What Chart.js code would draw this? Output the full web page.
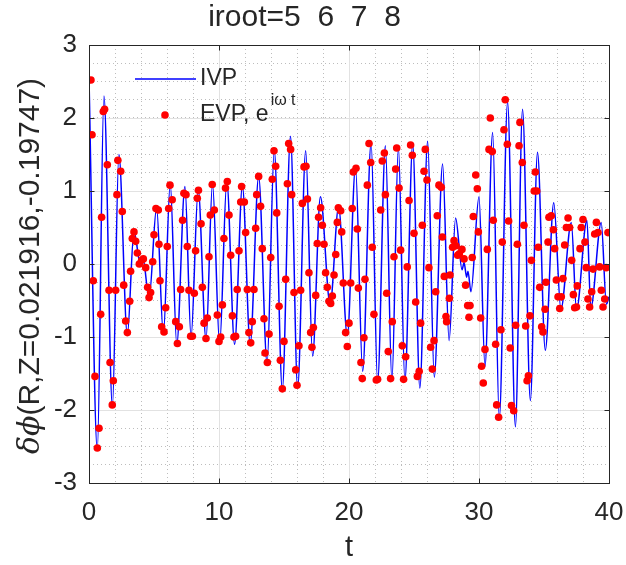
<!DOCTYPE html>
<html>
<head>
<meta charset="utf-8">
<script src="https://cdn.jsdelivr.net/npm/chart.js@4.4.1/dist/chart.umd.min.js"></script>
<style>
  body { margin: 0; background: #fff; }
</style>
</head>
<body>
<canvas id="plot" width="626" height="565"></canvas>
<script>
var titleText = 'iroot=5  6  7  8';
var xTicks = [0, 10, 20, 30, 40];
var yTicks = [-3, -2, -1, 0, 1, 2, 3];

// IVP curve, turning points
var ivpT = [0, 0.64, 1.15, 1.8, 2.3, 2.95, 3.46, 3.95, 4.15, 4.62,
  5.2, 5.72, 6.25, 6.75, 7.38, 7.85, 8.4, 9.0, 9.5, 10.05,
  10.6, 11.2, 11.8, 12.4, 13.05, 13.7, 14.25, 14.87, 15.5, 16.05,
  16.67, 17.2, 17.8, 18.55, 19.2, 19.87, 20.5, 21.05, 21.7, 22.2,
  22.8, 23.3, 23.8, 24.3, 24.9, 25.45, 26.05, 26.56, 27.2, 27.7,
  28.2, 28.7, 28.85, 29.05, 29.15, 29.38, 30.0, 30.46, 31.05, 31.56,
  32.2, 32.8, 33.35, 33.95, 34.5, 35.1, 35.75, 36.3, 37.1, 37.5,
  38.3, 38.6, 39.4, 39.8, 40];
var ivpV = [2.55, -2.55, 2.3, -1.95, 1.5, -0.97, 0.45, 0.0, 0.08, -0.47,
  0.77, -0.96, 1.1, -1.1, 1.06, -1.0, 1.02, -1.03, 1.1, -1.1,
  1.13, -1.1, 1.07, -1.1, 1.2, -1.36, 1.56, -1.72, 1.75, -1.7,
  1.55, -1.26, 0.92, -0.55, 0.78, -0.98, 1.33, -1.47, 1.66, -1.62,
  1.62, -1.6, 1.6, -1.6, 1.64, -1.7, 1.68, -1.55, 1.37, -1.05,
  0.63, -0.08, 0.02, -0.18, -0.1, -0.38, 0.92, -1.4, 1.8, -2.12,
  2.22, -2.23, 2.12, -1.87, 1.53, -1.18, 0.84, -0.62, 0.57, -0.63,
  0.6, -0.6, 0.57, -0.55, -0.45];

// EVP samples (red dots)
var evpT = [0.15, 0.23, 0.33, 0.46, 0.64, 0.77, 0.90, 0.97, 1.10, 1.20,
  1.41, 1.54, 1.62, 1.79, 1.87, 2.05, 2.15, 2.22, 2.44, 2.56,
  2.67, 2.82, 2.95, 3.13, 3.20, 3.33, 3.46, 3.59, 3.72, 3.87,
  4.05, 4.18, 4.36, 4.51, 4.62, 4.74, 4.90, 5.00, 5.15, 5.33,
  5.38, 5.46, 5.59, 5.77, 5.90, 6.02, 6.13, 6.23, 6.40, 6.67,
  6.80, 6.95, 7.05, 7.20, 7.30, 7.46, 7.56, 7.69, 7.82, 7.95,
  8.10, 8.20, 8.33, 8.42, 8.62, 8.72, 8.85, 9.00, 9.10, 9.23,
  9.33, 9.48, 9.64, 9.87, 10.00, 10.13, 10.26, 10.38, 10.50, 10.64,
  10.77, 10.90, 11.03, 11.15, 11.28, 11.40, 11.54, 11.67, 11.74, 11.95,
  12.05, 12.18, 12.30, 12.44, 12.56, 12.69, 12.82, 12.90, 13.05, 13.20,
  13.33, 13.46, 13.54, 13.72, 13.85, 13.98, 14.10, 14.23, 14.36, 14.44,
  14.62, 14.72, 14.87, 15.00, 15.13, 15.26, 15.36, 15.51, 15.59, 15.77,
  15.90, 16.00, 16.15, 16.28, 16.41, 16.54, 16.69, 16.80, 16.92, 17.05,
  17.15, 17.26, 17.44, 17.56, 17.66, 17.82, 17.95, 18.08, 18.20, 18.33,
  18.46, 18.59, 18.72, 18.85, 18.98, 19.10, 19.18, 19.36, 19.44, 19.56,
  19.74, 19.87, 20.00, 20.13, 20.25, 20.33, 20.54, 20.64, 20.72, 20.92,
  21.02, 21.15, 21.23, 21.41, 21.54, 21.67, 21.79, 21.92, 22.10, 22.20,
  22.44, 22.56, 22.72, 22.80, 22.90, 23.02, 23.20, 23.33, 23.46, 23.59,
  23.67, 23.85, 23.97, 24.10, 24.20, 24.36, 24.48, 24.62, 24.74, 24.87,
  25.00, 25.13, 25.26, 25.40, 25.51, 25.64, 25.77, 25.87, 26.00, 26.15,
  26.28, 26.41, 26.54, 26.67, 26.79, 26.92, 27.10, 27.18, 27.33, 27.46,
  27.51, 27.72, 27.77, 27.97, 28.08, 28.23, 28.36, 28.49, 28.69, 28.85,
  28.97, 29.13, 29.23, 29.31, 29.48, 29.56, 29.75, 29.87, 29.95, 30.13,
  30.20, 30.33, 30.46, 30.64, 30.77, 30.87, 31.02, 31.10, 31.28, 31.36,
  31.51, 31.69, 31.79, 31.92, 32.02, 32.18, 32.28, 32.40, 32.50, 32.67,
  32.82, 32.95, 33.08, 33.15, 33.33, 33.46, 33.59, 33.70, 33.80, 33.92,
  34.03, 34.25, 34.33, 34.44, 34.56, 34.67, 34.82, 34.92, 35.08, 35.15,
  35.31, 35.38, 35.56, 35.72, 35.82, 35.95, 36.08, 36.21, 36.33, 36.46,
  36.59, 36.72, 36.85, 36.97, 37.13, 37.26, 37.36, 37.50, 37.56, 37.77,
  37.87, 38.00, 38.15, 38.25, 38.38, 38.51, 38.67, 38.77, 38.90, 39.03,
  39.15, 39.28, 39.41, 39.54, 39.67, 39.79, 39.92];
var evpV = [2.52, 1.77, -0.23, -1.54, -2.52, -2.25, -0.69, 0.64, 2.09, 2.12,
  1.36, -0.36, -1.35, -1.93, -1.60, -0.36, 0.95, 1.42, 1.27, 0.72,
  -0.29, -0.78, -0.94, -0.51, -0.10, 0.35, 0.44, 0.31, 0.15, 0.00,
  0.05, 0.07, -0.05, -0.32, -0.46, -0.39, 0.03, 0.40, 0.76, 0.74,
  0.27, -0.23, -0.86, -0.93, -0.60, 0.24, 0.76, 1.08, 0.88, -0.79,
  -1.09, -0.86, -0.35, 0.60, 0.97, 0.95, 0.24, -0.36, -0.99, -0.99,
  -0.40, 0.18, 0.90, 1.01, 0.55, -0.32, -0.81, -1.02, -0.74, 0.10,
  0.67, 1.09, 0.74, -0.70, -1.06, -1.00, -0.56, 0.35, 1.04, 1.13,
  0.67, 0.12, -0.71, -1.00, -0.99, -0.35, 0.18, 0.85, 1.06, 0.85,
  0.43, -0.35, -0.94, -1.08, -0.79, -0.35, 0.49, 0.95, 1.20, 0.79,
  0.21, -0.75, -1.22, -1.35, -0.96, 0.09, 1.16, 1.55, 1.34, 0.70,
  -0.58, -1.32, -1.71, -1.06, -0.21, 1.10, 1.65, 1.57, 0.95, -0.39,
  -1.45, -1.66, -1.12, -0.36, 0.83, 1.33, 1.34, 0.89, -0.12, -0.94,
  -1.14, -0.87, -0.43, 0.28, 0.64, 0.77, 0.53, 0.27, -0.12, -0.32,
  -0.51, -0.54, -0.44, -0.15, 0.13, 0.57, 0.77, 0.73, 0.44, -0.26,
  -0.94, -1.13, -0.81, -0.26, 0.76, 1.26, 1.31, 0.48, -0.33, -1.35,
  -1.57, -1.01, -0.21, 1.08, 1.65, 1.39, 0.23, -0.69, -1.59, -1.58,
  0.74, 1.41, 1.52, 0.95, -0.40, -1.20, -1.57, -0.79, 0.10, 1.30,
  1.59, 1.04, 0.19, -1.12, -1.58, -1.27, -0.04, 0.87, 1.63, 1.49,
  0.42, -0.52, -1.54, -1.47, -0.81, 0.53, 1.27, 1.57, 1.15, -0.05,
  -1.14, -1.44, -1.05, -0.38, 0.66, 1.08, 1.05, 0.37, -0.17, -0.72,
  -0.79, -0.47, -0.15, 0.23, 0.32, 0.25, 0.12, 0.14, 0.20, 0.07,
  -0.29, -0.57, -0.73, -0.57, 0.09, 0.65, 1.22, 1.03, 0.44, -0.74,
  -1.40, -1.63, -1.17, 0.20, 1.57, 2.00, 1.54, 0.60, -1.10, -1.93,
  -2.10, -0.90, 0.30, 1.84, 2.25, 1.64, 0.59, -1.15, -1.94, -2.01,
  -0.84, 0.27, 1.62, 1.94, 1.39, 0.53, -0.85, -1.60, -1.53, -0.71,
  0.05, 1.00, 1.26, 1.00, 0.23, -0.32, -0.86, -0.93, -0.62, -0.25,
  0.30, 0.64, 0.66, 0.47, 0.21, -0.22, -0.45, -0.61, -0.45, -0.20,
  0.26, 0.50, 0.63, 0.50, 0.05, -0.42, -0.60, -0.59, -0.30, 0.21,
  0.50, 0.61, 0.30, -0.05, -0.48, -0.59, -0.38, -0.07, 0.41, 0.57,
  0.43, -0.04, -0.36, -0.59, -0.48, -0.05, 0.43];

var textCol = '#262626';
var sans = '"Liberation Sans", Arial, sans-serif';

var ivpPts = ivpT.map(function (t, i) { return { x: t, y: ivpV[i] }; });
var evpPts = evpT.map(function (t, i) { return { x: t, y: evpV[i] }; });

// matlab style box, major grid, inward ticks, legend and y label
var matlabAxes = {
    id: 'matlabAxes',
    beforeDatasetsDraw: function (chart) {
        var c = chart.ctx, a = chart.chartArea;
        var xs = chart.scales.x, ys = chart.scales.y;
        c.save();
        c.strokeStyle = '#e2e2e2';
        c.lineWidth = 1;
        c.beginPath();
        xTicks.forEach(function (v) {
            var px = Math.round(xs.getPixelForValue(v)) + 0.5;
            c.moveTo(px, a.top); c.lineTo(px, a.bottom);
        });
        yTicks.forEach(function (v) {
            var py = Math.round(ys.getPixelForValue(v)) + 0.5;
            c.moveTo(a.left, py); c.lineTo(a.right, py);
        });
        c.stroke();
        c.restore();
    },
    afterDraw: function (chart) {
        var c = chart.ctx, a = chart.chartArea;
        var xs = chart.scales.x, ys = chart.scales.y;
        var L = Math.round(a.left) + 0.5, R = Math.round(a.right) + 0.5;
        var T = Math.round(a.top) + 0.5, B = Math.round(a.bottom) + 0.5;
        c.save();
        c.strokeStyle = textCol;
        c.lineWidth = 1;
        c.strokeRect(L, T, R - L, B - T);
        c.beginPath();
        xTicks.forEach(function (v) {
            var px = Math.round(xs.getPixelForValue(v)) + 0.5;
            c.moveTo(px, B); c.lineTo(px, B - 5);
            c.moveTo(px, T); c.lineTo(px, T + 5);
        });
        yTicks.forEach(function (v) {
            var py = Math.round(ys.getPixelForValue(v)) + 0.5;
            c.moveTo(L, py); c.lineTo(L + 5, py);
            c.moveTo(R, py); c.lineTo(R - 5, py);
        });
        c.stroke();

        // legend
        var lx = a.left, ly = a.top;
        c.strokeStyle = 'rgb(0,0,255)';
        c.lineWidth = 1.5;
        c.beginPath();
        c.moveTo(lx + 46, ly + 34); c.lineTo(lx + 107, ly + 34);
        c.stroke();
        c.fillStyle = 'rgb(255,0,0)';
        c.beginPath();
        c.arc(lx + 76, ly + 70, 3.8, 0, Math.PI * 2);
        c.fill();
        c.fillStyle = textCol;
        c.textBaseline = 'middle';
        c.textAlign = 'left';
        c.font = '23px ' + sans;
        c.fillText('IVP', lx + 111, ly + 34);
        c.fillText('EVP, e', lx + 111, ly + 70);
        var w = c.measureText('EVP, e').width;
        c.font = '16px ' + sans;
        c.fillText('i\u03C9 t', lx + 113 + w, ly + 56);

        // y axis label
        c.translate(31, 266);
        c.rotate(-Math.PI / 2);
        var f1 = 'italic 30px "DejaVu Serif", serif';
        var f2 = '30px ' + sans;
        var s1 = '\u03B4\u03D5', s2 = '(R,Z=0.021916,-0.19747)';
        c.font = f1; var w1 = c.measureText(s1).width;
        c.font = f2; var w2 = c.measureText(s2).width;
        var x0 = -(w1 + w2) / 2;
        c.font = f1; c.fillText(s1, x0, 0);
        c.font = f2; c.fillText(s2, x0 + w1, 0);
        c.restore();
    }
};

var tickFont = { family: sans, size: 26 };

new Chart(document.getElementById('plot'), {
    type: 'scatter',
    data: {
        datasets: [
            {
                label: 'IVP',
                data: ivpPts,
                showLine: true,
                borderColor: 'rgb(0,0,255)',
                borderWidth: 1.5,
                pointRadius: 0,
                cubicInterpolationMode: 'monotone',
                order: 1
            },
            {
                label: 'EVP',
                data: evpPts,
                showLine: false,
                pointRadius: 3.8,
                pointBackgroundColor: 'rgb(255,0,0)',
                pointBorderWidth: 0,
                order: 0
            }
        ]
    },
    options: {
        responsive: false,
        animation: false,
        layout: { padding: { left: 0, right: 17, top: 0, bottom: 0 } },
        plugins: {
            legend: { display: false },
            tooltip: { enabled: false },
            title: {
                display: true,
                text: titleText,
                color: textCol,
                font: { family: sans, size: 30, weight: 'normal' },
                padding: { top: 0, bottom: 9 }
            }
        },
        scales: {
            x: {
                type: 'linear',
                min: 0, max: 40,
                afterFit: function (s) {
                    s.height = 82;
                    s.paddingLeft = 0;
                    s.paddingRight = 0;
                },
                ticks: {
                    stepSize: 2, autoSkip: false, maxRotation: 0, padding: 14,
                    color: textCol, font: tickFont,
                    callback: function (v) { return xTicks.indexOf(v) >= 0 ? String(v) : ''; }
                },
                grid: { color: '#bdbdbd', lineWidth: 1, drawTicks: false },
                border: { display: false, dash: [1, 3] },
                title: {
                    display: true, text: 't', color: textCol,
                    font: { family: sans, size: 29 },
                    padding: { top: 0, bottom: 0 }
                }
            },
            y: {
                min: -3, max: 3,
                afterFit: function (s) {
                    s.width = 89;
                    s.paddingTop = 0;
                    s.paddingBottom = 0;
                },
                ticks: {
                    stepSize: 0.25, autoSkip: false, padding: 12,
                    color: textCol, font: tickFont,
                    callback: function (v) { return yTicks.indexOf(v) >= 0 ? String(v) : ''; }
                },
                grid: { color: '#bdbdbd', lineWidth: 1, drawTicks: false },
                border: { display: false, dash: [1, 3] }
            }
        }
    },
    plugins: [matlabAxes]
});
</script>
</body>
</html>
